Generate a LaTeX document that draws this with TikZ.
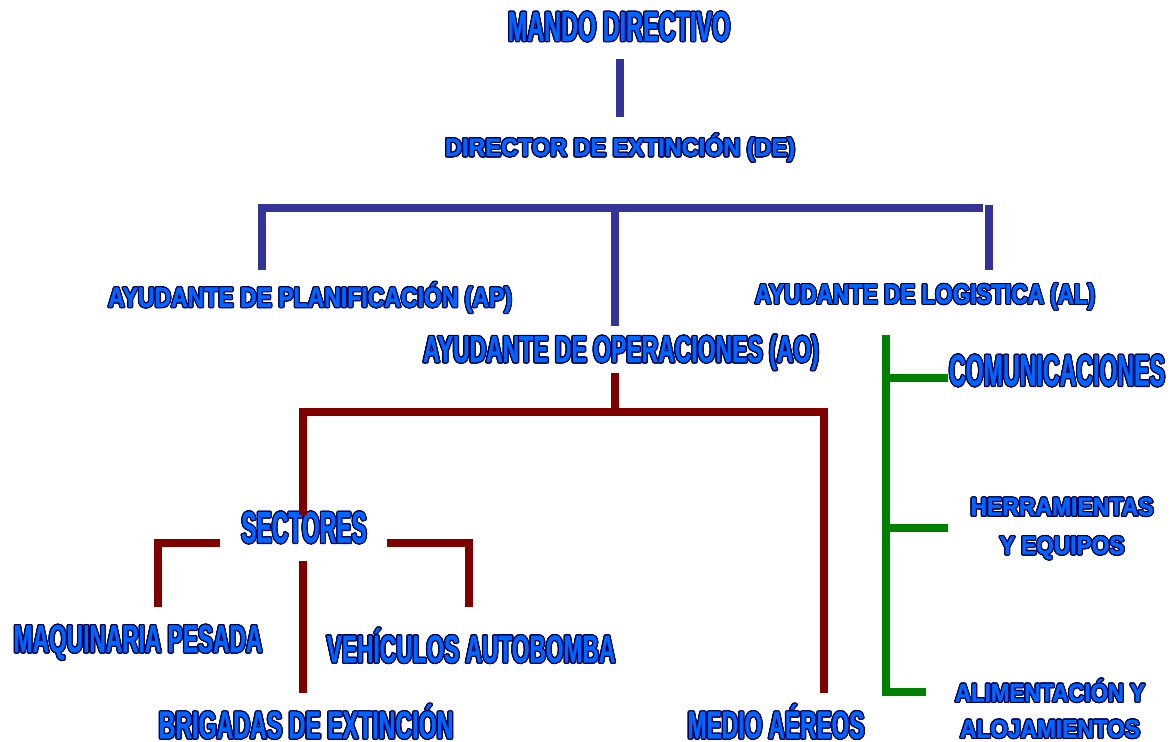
\documentclass[tikz,border=0pt]{standalone}
\usepackage{fontspec}
\usepackage{graphicx}
\usepackage{contour}
\usetikzlibrary{positioning}
\newfontfamily\narrowfont[FakeStretch=0.56,FakeBold=0.5]{Liberation Sans}
\newfontfamily\widefont[FakeStretch=0.9,FakeBold=1.5]{Liberation Sans}
\definecolor{textblue}{RGB}{0,102,255}
\definecolor{edgeblue}{RGB}{0,0,80}
\definecolor{lineblue}{RGB}{51,51,153}
\definecolor{linered}{RGB}{128,0,0}
\definecolor{linegreen}{RGB}{0,128,0}
\contourlength{0.7pt}
\newcommand{\lbl}[2][1]{\scalebox{#1}[1]{\contour{edgeblue}{#2}}}
\tikzset{
  narrow/.style={font=\narrowfont\bfseries\fontsize{#1}{#1}\selectfont, text=textblue, inner sep=1pt},
  wide/.style 2 args={font=\widefont\bfseries\fontsize{#1}{#2}\selectfont, text=textblue, inner sep=1pt, align=center},
  azul/.style={draw=lineblue, line width=4.8pt},
  rojo/.style={draw=linered, line width=4pt},
  verde/.style={draw=linegreen, line width=4pt}
}

\begin{document}
\begin{tikzpicture}[x=0.02cm, y=-0.02cm]
  \useasboundingbox (0,0) rectangle (1176,742);

  % texts
  \node[narrow=23.8] (mando) at (619,27) {\lbl{MANDO DIRECTIVO}};
  \node[wide={14.4}{14.4}] (de) at (620,148) {\lbl[1.03]{DIRECTOR DE EXTINCIÓN (DE)}};
  \node[wide={15.8}{15.8}] (ap) at (310,298) {\lbl[0.92]{AYUDANTE DE PLANIFICACIÓN (AP)}};
  \node[wide={15.8}{15.8}] (al) at (925,297) {\lbl[0.9]{AYUDANTE DE LOGISTICA (AL)}};
  \node[narrow=21.4] (ao) at (621,353) {\lbl[1.09]{AYUDANTE DE OPERACIONES (AO)}};
  \node[narrow=25.3] (com) at (1057,371) {\lbl[0.93]{COMUNICACIONES}};
  \node[wide={14.5}{22}] (herr) at (1062,529) {\lbl[1]{HERRAMIENTAS}\\\lbl[0.99]{Y EQUIPOS}};
  \node[wide={14.5}{20.5}] (alim) at (1050,709) {\lbl[0.97]{ALIMENTACIÓN Y}\\\lbl[0.99]{ALOJAMIENTOS}};
  \node[narrow=25.3] (sect) at (304,528) {\lbl[0.92]{SECTORES}};
  \node[narrow=22.2] (maq) at (138,643) {\lbl[1.04]{MAQUINARIA PESADA}};
  \node[narrow=22.2] (veh) at (471,646) {\lbl[1.04]{VEHÍCULOS AUTOBOMBA}};
  \node[narrow=22] (brig) at (306,722) {\lbl[1.07]{BRIGADAS DE EXTINCIÓN}};
  \node[narrow=22] (medio) at (776,722) {\lbl[1.05]{MEDIO AÉREOS}};

  % bracket ends
  \coordinate (de-bar-r) at (983,208);
  \coordinate (de-bar-m) at (615,208);
  \coordinate (ap-in) at (262,270);
  \coordinate (al-in) at (989,270);
  \coordinate (ao-out) at (615,412);
  \coordinate (sect-in) at (303,515);
  \coordinate (medio-in) at (824,693);
  \coordinate (sect-l) at (220,543);
  \coordinate (sect-r) at (387,543);
  \coordinate (maq-in) at (158,607);
  \coordinate (veh-in) at (469,607);
  \coordinate (brig-in) at (303,693);
  \coordinate (log-top) at (886,335);
  \coordinate (com-in) at (948,378);
  \coordinate (herr-in) at (948,528);
  \coordinate (alim-in) at (926,692);

  % blue: mando
  \draw[azul, shorten <=8pt, shorten >=8pt] (mando.south -| de) -- (de.north);
  \draw[azul] (ap-in) |- (de-bar-r);
  \draw[azul, shorten >=4pt] (de-bar-m) -- (de-bar-m |- ao.north);
  \draw[azul] (al-in) -- +(0,-65);

  % red: operaciones
  \draw[rojo] (ao.south -| ao-out) -- (ao-out);
  \draw[rojo] (sect-in) |- (medio-in |- ao-out) -- (medio-in);
  \draw[rojo] (maq-in) |- (sect-l);
  \draw[rojo] (veh-in) |- (sect-r);
  \draw[rojo, shorten <=8pt] (brig-in |- sect.south) -- (brig-in);

  % green: logistica
  \draw[verde] (log-top) |- (alim-in);
  \draw[verde] (com-in -| log-top) -- (com-in);
  \draw[verde] (herr-in -| log-top) -- (herr-in);
\end{tikzpicture}
\end{document}
